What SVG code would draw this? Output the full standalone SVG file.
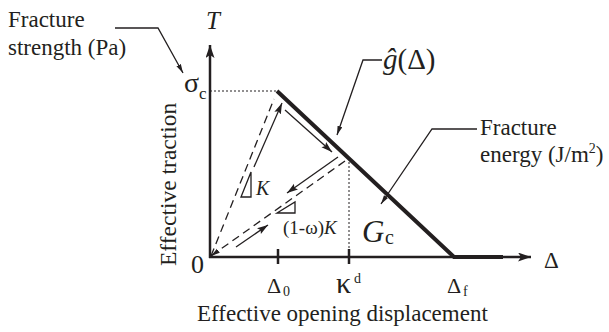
<svg xmlns="http://www.w3.org/2000/svg" width="609" height="332" viewBox="0 0 609 332">
<style>
text{font-family:"Liberation Serif","Times New Roman",serif;fill:#231f20}
.ax{stroke:#231f20;stroke-width:2.5;fill:none}
.th{stroke:#231f20;stroke-width:4;fill:none}
.ln{stroke:#231f20;stroke-width:1.3;fill:none}
.ds{stroke:#231f20;stroke-width:1.3;fill:none;stroke-dasharray:8 5}
.dt{stroke:#231f20;stroke-width:1;fill:none;stroke-dasharray:2 2}
.it{font-style:italic}
.sb{font-size:14px}
</style>
<defs>
<marker id="ah" markerUnits="userSpaceOnUse" markerWidth="12" markerHeight="8" refX="11" refY="3.5" orient="auto">
<path d="M0,0 L11,3.5 L0,7 L2,3.5 z" fill="#231f20"/>
</marker>
<marker id="al" markerUnits="userSpaceOnUse" markerWidth="10" markerHeight="6" refX="9" refY="2.5" orient="auto">
<path d="M0,0 L9,2.5 L0,5 z" fill="#231f20"/>
</marker>
<marker id="ax" markerUnits="userSpaceOnUse" markerWidth="14" markerHeight="10" refX="13" refY="4.5" orient="auto">
<path d="M0,0 L13,4.5 L0,9 L3,4.5 z" fill="#231f20"/>
</marker>
</defs>
<g id="connectors">
<line class="ax" x1="210" y1="258" x2="210" y2="45" marker-end="url(#ax)"/>
<line class="ax" x1="209" y1="257" x2="531" y2="257" marker-end="url(#ax)"/>
<polyline class="th" points="277,91 454,257 503,257"/>
<line class="dt" x1="210" y1="91" x2="277" y2="91"/>
<line class="dt" x1="349" y1="158" x2="349" y2="257"/>
<line class="ax" stroke-width="2" x1="278" y1="249" x2="278" y2="264"/>
<line class="ax" stroke-width="2" x1="349" y1="249" x2="349" y2="264"/>
<line class="ds" x1="211" y1="256" x2="274" y2="99"/>
<line class="ds" x1="345" y1="161" x2="211" y2="256" marker-end="url(#al)"/>
<line class="ln" x1="254" y1="167" x2="282" y2="103" marker-end="url(#ah)"/>
<line class="ln" x1="285" y1="110" x2="332" y2="152" marker-end="url(#ah)"/>
<line class="ln" x1="338" y1="157" x2="287" y2="193" marker-end="url(#ah)"/>
<line class="ln" x1="236" y1="247" x2="268" y2="225" marker-end="url(#ah)"/>
<polyline class="ln" points="115,28 158,28 183,73" marker-end="url(#al)"/>
<polyline class="ln" points="382,60 363,60 337,135" marker-end="url(#al)"/>
<polyline class="ln" points="477,129 432,129 381,204" marker-end="url(#al)"/>
<polygon class="ln" points="241,197 251,172 251,197"/>
<polygon class="ln" points="277,213 295,202 295,213"/>
</g>
<g id="fracture-strength"><text x="8" y="27" font-size="23">Fracture</text><text x="8" y="55" font-size="23">strength (Pa)</text></g>
<g id="T-label"><text class="it" x="206" y="29" font-size="25">T</text></g>
<g id="sigma-c"><text x="184" y="92" font-size="28">σ</text><text x="199" y="99" font-size="17">c</text></g>
<g id="g-label"><text x="383" y="69" font-size="29"><tspan class="it">ĝ</tspan>(Δ)</text></g>
<g id="fracture-energy"><text x="480" y="135" font-size="23">Fracture</text><text x="480" y="162" font-size="23">energy (J/m<tspan font-size="14" dy="-9">2</tspan><tspan dy="9">)</tspan></text></g>
<g id="K-label"><text class="it" x="256" y="195" font-size="20">K</text></g>
<g id="K2-label"><text x="283" y="234" font-size="19">(1-ω)<tspan class="it">K</tspan></text></g>
<g id="Gc"><text class="it" x="362" y="242" font-size="31">G</text><text x="385" y="244" font-size="20">c</text></g>
<g id="origin"><text x="191" y="273" font-size="26">0</text></g>
<g id="delta0"><text x="267" y="293" font-size="22">Δ</text><text class="sb" x="283" y="296">0</text></g>
<g id="kappad"><text x="336" y="293" font-size="30">κ</text><text class="sb" x="354" y="283">d</text></g>
<g id="deltaf"><text x="447" y="293" font-size="22">Δ</text><text class="sb" x="463" y="296">f</text></g>
<g id="delta-axis"><text x="544" y="268" font-size="23">Δ</text></g>
<g id="x-title"><text x="197" y="321" font-size="23">Effective opening displacement</text></g>
<g id="y-title"><text transform="translate(176,266) rotate(-90)" font-size="23.5">Effective traction</text></g>
</svg>
